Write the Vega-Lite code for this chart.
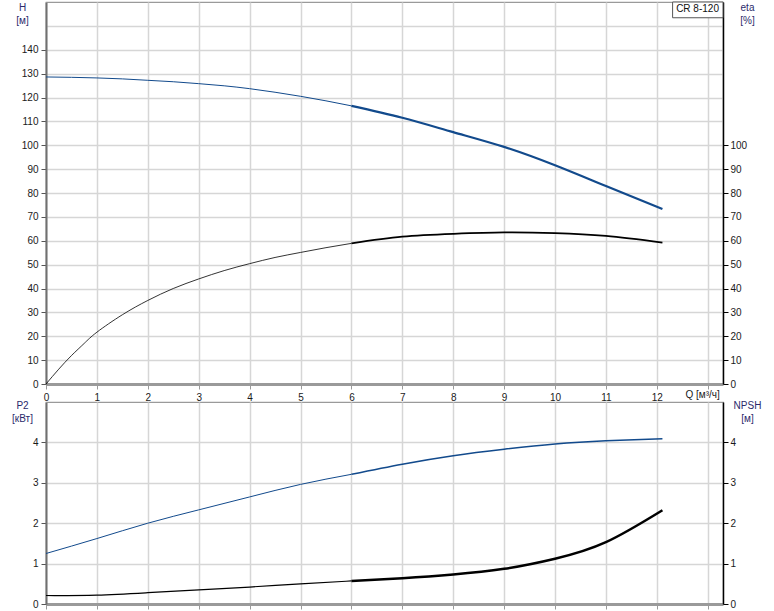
{
  "$schema": "https://vega.github.io/schema/vega-lite/v6.json",
  "autosize": {"type": "pad"},
  "padding": {"left": 10, "top": 0, "right": 0, "bottom": 0},
  "background": "white",
  "bounds": "flush",
  "spacing": 18,
  "config": {
    "view": {"stroke": "#9a9a9a", "strokeWidth": 1.2},
    "axis": {
      "labelFont": "Liberation Sans", "labelFontSize": 10, "labelColor": "#1a1a1a",
      "titleFont": "Liberation Sans", "titleFontSize": 10, "titleFontWeight": "normal", "titleColor": "#2b2b6b",
      "gridColor": "#d6d6d6", "gridWidth": 1.5, "labelFlush": false, "labelBound": false, "labelOverlap": false
    },
    "line": {"interpolate": "natural"}
  },
  "datasets": {
    "curves": [
      {"c": "H", "seg": "thin", "Q": 0, "v": 128.6},
      {"c": "H", "seg": "thin", "Q": 0.5, "v": 128.45},
      {"c": "H", "seg": "thin", "Q": 1, "v": 128.2},
      {"c": "H", "seg": "thin", "Q": 1.5, "v": 127.8},
      {"c": "H", "seg": "thin", "Q": 2, "v": 127.2},
      {"c": "H", "seg": "thin", "Q": 2.5, "v": 126.6},
      {"c": "H", "seg": "thin", "Q": 3, "v": 125.8},
      {"c": "H", "seg": "thin", "Q": 3.5, "v": 124.9},
      {"c": "H", "seg": "thin", "Q": 4, "v": 123.7},
      {"c": "H", "seg": "thin", "Q": 4.5, "v": 122.2},
      {"c": "H", "seg": "thin", "Q": 5, "v": 120.5},
      {"c": "H", "seg": "thin", "Q": 5.5, "v": 118.6},
      {"c": "H", "seg": "thin", "Q": 6, "v": 116.5},
      {"c": "H", "seg": "thick", "Q": 6, "v": 116.5},
      {"c": "H", "seg": "thick", "Q": 7, "v": 111.5},
      {"c": "H", "seg": "thick", "Q": 8, "v": 105.5},
      {"c": "H", "seg": "thick", "Q": 9, "v": 99.3},
      {"c": "H", "seg": "thick", "Q": 10, "v": 91.6},
      {"c": "H", "seg": "thick", "Q": 11, "v": 82.9},
      {"c": "H", "seg": "thick", "Q": 12.11, "v": 73.3},
      {"c": "eta", "seg": "thin", "Q": 0, "v": 0},
      {"c": "eta", "seg": "thin", "Q": 0.25, "v": 6.2},
      {"c": "eta", "seg": "thin", "Q": 0.5, "v": 11.9},
      {"c": "eta", "seg": "thin", "Q": 0.75, "v": 17},
      {"c": "eta", "seg": "thin", "Q": 1, "v": 21.7},
      {"c": "eta", "seg": "thin", "Q": 1.5, "v": 29},
      {"c": "eta", "seg": "thin", "Q": 2, "v": 35},
      {"c": "eta", "seg": "thin", "Q": 2.5, "v": 40},
      {"c": "eta", "seg": "thin", "Q": 3, "v": 44},
      {"c": "eta", "seg": "thin", "Q": 3.5, "v": 47.5},
      {"c": "eta", "seg": "thin", "Q": 4, "v": 50.4},
      {"c": "eta", "seg": "thin", "Q": 4.5, "v": 53},
      {"c": "eta", "seg": "thin", "Q": 5, "v": 55.1},
      {"c": "eta", "seg": "thin", "Q": 5.5, "v": 57.1},
      {"c": "eta", "seg": "thin", "Q": 6, "v": 58.9},
      {"c": "eta", "seg": "thick", "Q": 6, "v": 58.9},
      {"c": "eta", "seg": "thick", "Q": 7, "v": 61.7},
      {"c": "eta", "seg": "thick", "Q": 8, "v": 62.9},
      {"c": "eta", "seg": "thick", "Q": 9, "v": 63.5},
      {"c": "eta", "seg": "thick", "Q": 10, "v": 63.2},
      {"c": "eta", "seg": "thick", "Q": 11, "v": 62},
      {"c": "eta", "seg": "thick", "Q": 12.11, "v": 59.2},
      {"c": "P2", "seg": "thin", "Q": 0, "v": 1.25},
      {"c": "P2", "seg": "thin", "Q": 1, "v": 1.62},
      {"c": "P2", "seg": "thin", "Q": 2, "v": 2.0},
      {"c": "P2", "seg": "thin", "Q": 3, "v": 2.33},
      {"c": "P2", "seg": "thin", "Q": 4, "v": 2.65},
      {"c": "P2", "seg": "thin", "Q": 5, "v": 2.96},
      {"c": "P2", "seg": "thin", "Q": 6, "v": 3.21},
      {"c": "P2", "seg": "thick", "Q": 6, "v": 3.21},
      {"c": "P2", "seg": "thick", "Q": 7, "v": 3.46},
      {"c": "P2", "seg": "thick", "Q": 8, "v": 3.67},
      {"c": "P2", "seg": "thick", "Q": 9, "v": 3.83},
      {"c": "P2", "seg": "thick", "Q": 10, "v": 3.96},
      {"c": "P2", "seg": "thick", "Q": 11, "v": 4.04},
      {"c": "P2", "seg": "thick", "Q": 12.11, "v": 4.09},
      {"c": "NPSH", "seg": "thin", "Q": 0, "v": 0.21},
      {"c": "NPSH", "seg": "thin", "Q": 1, "v": 0.22},
      {"c": "NPSH", "seg": "thin", "Q": 2, "v": 0.28},
      {"c": "NPSH", "seg": "thin", "Q": 3, "v": 0.35},
      {"c": "NPSH", "seg": "thin", "Q": 4, "v": 0.42},
      {"c": "NPSH", "seg": "thin", "Q": 5, "v": 0.5},
      {"c": "NPSH", "seg": "thin", "Q": 6, "v": 0.57},
      {"c": "NPSH", "seg": "thick", "Q": 6, "v": 0.57},
      {"c": "NPSH", "seg": "thick", "Q": 7, "v": 0.64},
      {"c": "NPSH", "seg": "thick", "Q": 8, "v": 0.73},
      {"c": "NPSH", "seg": "thick", "Q": 9, "v": 0.87},
      {"c": "NPSH", "seg": "thick", "Q": 10, "v": 1.12},
      {"c": "NPSH", "seg": "thick", "Q": 11, "v": 1.53},
      {"c": "NPSH", "seg": "thick", "Q": 12.11, "v": 2.32}
    ],
    "label": [
      {"text": "CR 8-120", "Q1": 12.31, "Q2": 13.3, "Qt": 12.8, "v1": 153.4, "v2": 160, "vt": 156.9}
    ]
  },
  "vconcat": [
    {
      "width": 677,
      "height": 382,
      "resolve": {"axis": {"y": "independent"}},
      "layer": [
        {
          "data": {"name": "curves"},
          "transform": [{"filter": "datum.c == 'H'"}],
          "mark": {"type": "line", "color": "#124a8c"},
          "encoding": {
            "x": {
              "field": "Q", "type": "quantitative",
              "scale": {"domain": [0, 13.3], "nice": false, "zero": false},
              "axis": {
                "values": [0,1,2,3,4,5,6,7,8,9,10,11,12,13],
                "labelExpr": "datum.value > 12 ? '' : datum.label",
                "grid": true, "domainColor": "#9a9a9a", "domainWidth": 3,
                "tickColor": "#9a9a9a", "tickSize": 5, "labelPadding": 3,
                "title": "Q [м³/ч]", "titleX": 639, "titleY": 10,
                "titleAlign": "left", "titleBaseline": "middle", "titleColor": "#1a1a1a", "titleAngle": 0
              }
            },
            "y": {
              "field": "v", "type": "quantitative",
              "scale": {"domain": [0, 160], "nice": false},
              "axis": {
                "orient": "left",
                "values": [0,10,20,30,40,50,60,70,80,90,100,110,120,130,140,150],
                "labelExpr": "datum.value > 140 ? '' : datum.label",
                "tickColor": {"condition": {"test": "datum.value > 140", "value": "transparent"}, "value": "#555555"},
                "grid": true, "domainColor": "#707070", "domainWidth": 2,
                "tickSize": 5, "labelPadding": 3,
                "title": ["H", "[м]"], "titleAngle": 0, "titleAlign": "center",
                "titleBaseline": "top", "titleX": -24, "titleY": 0, "titleLineHeight": 13
              }
            },
            "detail": {"field": "seg"},
            "strokeWidth": {"condition": {"test": "datum.seg == 'thick'", "value": 2.2}, "value": 1}
          }
        },
        {
          "data": {"name": "curves"},
          "transform": [{"filter": "datum.c == 'eta'"}],
          "mark": {"type": "line", "color": "#000000"},
          "encoding": {
            "x": {"field": "Q", "type": "quantitative"},
            "y": {
              "field": "v", "type": "quantitative",
              "axis": {
                "orient": "right",
                "values": [0,10,20,30,40,50,60,70,80,90,100],
                "grid": false, "domainColor": "#000000", "domainWidth": 1.5,
                "tickColor": "#000000", "tickSize": 5, "labelPadding": 2,
                "title": ["eta", "[%]"], "titleAngle": 0, "titleAlign": "center",
                "titleBaseline": "top", "titleX": 24, "titleY": 0, "titleLineHeight": 13
              }
            },
            "detail": {"field": "seg"},
            "strokeWidth": {"condition": {"test": "datum.seg == 'thick'", "value": 1.8}, "value": 0.8}
          }
        },
        {
          "data": {"name": "label"},
          "mark": {"type": "rect", "fill": "white", "stroke": "#555555", "strokeWidth": 1},
          "encoding": {
            "x": {"field": "Q1", "type": "quantitative"},
            "x2": {"field": "Q2"},
            "y": {"field": "v1", "type": "quantitative", "axis": null},
            "y2": {"field": "v2"}
          }
        },
        {
          "data": {"name": "label"},
          "mark": {"type": "text", "font": "Liberation Sans", "fontSize": 10, "color": "#111111", "align": "center", "baseline": "middle"},
          "encoding": {
            "x": {"field": "Qt", "type": "quantitative"},
            "y": {"field": "vt", "type": "quantitative", "axis": null},
            "text": {"field": "text"}
          }
        }
      ]
    },
    {
      "width": 677,
      "height": 202,
      "resolve": {"axis": {"y": "independent"}},
      "layer": [
        {
          "data": {"name": "curves"},
          "transform": [{"filter": "datum.c == 'P2'"}],
          "mark": {"type": "line", "color": "#124a8c"},
          "encoding": {
            "x": {
              "field": "Q", "type": "quantitative",
              "scale": {"domain": [0, 13.3], "nice": false, "zero": false},
              "axis": {
                "values": [0,1,2,3,4,5,6,7,8,9,10,11,12,13],
                "labels": false, "grid": true, "domainColor": "#9a9a9a", "domainWidth": 3,
                "tickColor": "#9a9a9a", "tickSize": 5, "title": null
              }
            },
            "y": {
              "field": "v", "type": "quantitative",
              "scale": {"domain": [0, 5], "nice": false},
              "axis": {
                "orient": "left",
                "values": [0,1,2,3,4],
                "grid": true, "domainColor": "#707070", "domainWidth": 2,
                "tickColor": "#555555", "tickSize": 5, "labelPadding": 3,
                "title": ["P2", "[кВт]"], "titleAngle": 0, "titleAlign": "center",
                "titleBaseline": "top", "titleX": -24, "titleY": -2, "titleLineHeight": 13
              }
            },
            "detail": {"field": "seg"},
            "strokeWidth": {"condition": {"test": "datum.seg == 'thick'", "value": 1.5}, "value": 1}
          }
        },
        {
          "data": {"name": "curves"},
          "transform": [{"filter": "datum.c == 'NPSH'"}],
          "mark": {"type": "line", "color": "#000000"},
          "encoding": {
            "x": {"field": "Q", "type": "quantitative"},
            "y": {
              "field": "v", "type": "quantitative",
              "axis": {
                "orient": "right",
                "values": [0,1,2,3,4],
                "grid": false, "domainColor": "#000000", "domainWidth": 1.5,
                "tickColor": "#000000", "tickSize": 5, "labelPadding": 2,
                "title": ["NPSH", "[м]"], "titleAngle": 0, "titleAlign": "center",
                "titleBaseline": "top", "titleX": 24, "titleY": -2, "titleLineHeight": 13
              }
            },
            "detail": {"field": "seg"},
            "strokeWidth": {"condition": {"test": "datum.seg == 'thick'", "value": 2.5}, "value": 1.2}
          }
        }
      ]
    }
  ]
}
